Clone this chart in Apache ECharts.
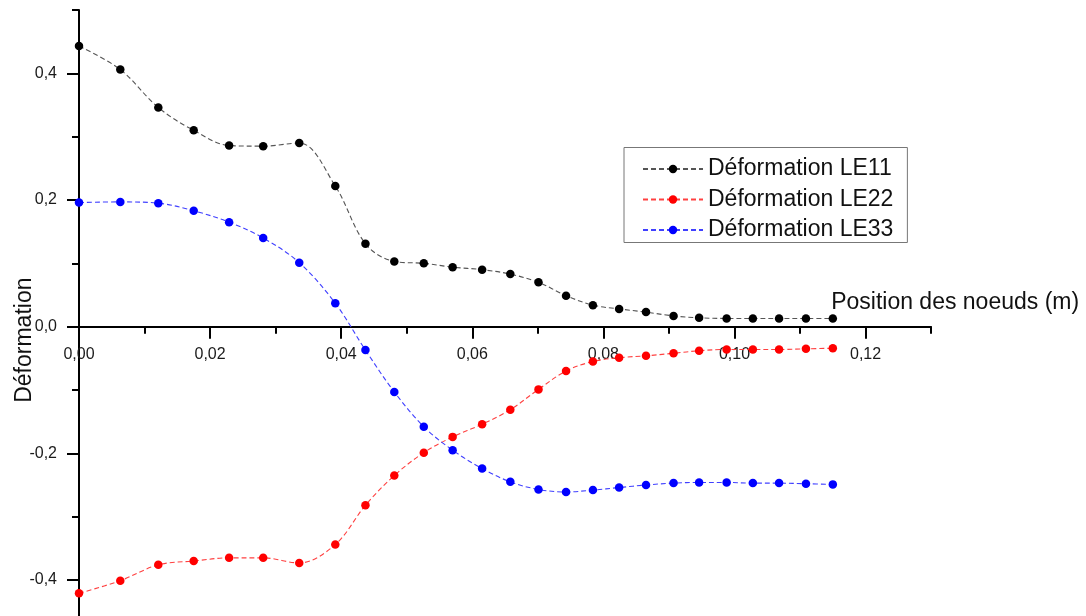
<!DOCTYPE html>
<html>
<head>
<meta charset="utf-8">
<script src="https://cdn.jsdelivr.net/npm/echarts@6/dist/echarts.min.js"></script>
<style>
  html, body { margin: 0; padding: 0; background: #fff; }
  #chart { width: 1086px; height: 616px; }
</style>
</head>
<body>
<div id="chart"></div>
<script>
// Node positions along the part (m)
const positions = [0, 0.0063, 0.0121, 0.0175, 0.0229, 0.0281, 0.0336, 0.0391, 0.0437, 0.0481,
  0.0526, 0.0570, 0.0615, 0.0658, 0.0701, 0.0743, 0.0784, 0.0824, 0.0865, 0.0907,
  0.0946, 0.0988, 0.1028, 0.1068, 0.1109, 0.1150];

// Strain components at each node
const le11 = [0.443, 0.406, 0.346, 0.310, 0.286, 0.285, 0.290, 0.222, 0.131, 0.103,
  0.100, 0.094, 0.090, 0.083, 0.070, 0.049, 0.034, 0.028, 0.023, 0.017,
  0.014, 0.013, 0.013, 0.013, 0.013, 0.013];
const le22 = [-0.421, -0.401, -0.376, -0.370, -0.365, -0.365, -0.373, -0.344, -0.282, -0.235,
  -0.199, -0.174, -0.154, -0.131, -0.099, -0.070, -0.055, -0.049, -0.046, -0.042,
  -0.038, -0.036, -0.036, -0.036, -0.035, -0.034];
const le33 = [0.196, 0.197, 0.195, 0.183, 0.165, 0.140, 0.101, 0.037, -0.037, -0.103,
  -0.158, -0.195, -0.224, -0.245, -0.257, -0.261, -0.258, -0.254, -0.250, -0.247,
  -0.246, -0.246, -0.247, -0.247, -0.248, -0.249];

// Tick labels
const yMajorTicks = [-0.4, -0.2, 0, 0.2, 0.4];

const seriesNames = ['Déformation LE11', 'Déformation LE22', 'Déformation LE33'];
const xName = 'Position des noeuds (m)';
const yName = 'Déformation';

const FONT = '"Liberation Sans", Arial, sans-serif';
const comma = (v, d) => v.toFixed(d).replace('.', ',');

// Plot geometry: 6555 px per metre, 633.35 px per unit of strain
const LEFT = 79, TOP = 10, W = 616, CW = 1086;
const PX_X = 6555, PX_Y = 633.35;
const X_MAX = 0.13, X_LABEL_MAX = 0.12;
const Y_MIN = -0.5, Y_MAX = 0.5;
const zeroY = TOP + Y_MAX * PX_Y;

function pairs(ys) { return positions.map((x, i) => [x, ys[i]]); }

function lineSeries(name, ys, markerColor, lineColor) {
  return {
    name: name,
    type: 'line',
    data: pairs(ys),
    xAxisIndex: 0,
    yAxisIndex: 0,
    smooth: 0.35,
    clip: false,
    symbol: 'circle',
    symbolSize: 8.5,
    itemStyle: { color: markerColor },
    lineStyle: { color: lineColor, width: 1.1, type: [5, 3] },
    emphasis: { disabled: true }
  };
}

const chart = echarts.init(document.getElementById('chart'), null, { renderer: 'canvas' });

chart.setOption({
  animation: false,
  backgroundColor: '#ffffff',
  textStyle: { fontFamily: FONT },
  grid: [
    // main plotting area
    { left: LEFT, right: CW - (LEFT + X_MAX * PX_X), top: TOP, bottom: W - (TOP + (Y_MAX - Y_MIN) * PX_Y),
      outerBoundsMode: 'none', containLabel: false },
    // strip whose lower edge sits on the zero line: carries the major x ticks and labels
    { left: LEFT, right: CW - (LEFT + X_LABEL_MAX * PX_X), top: TOP, bottom: W - zeroY,
      outerBoundsMode: 'none', containLabel: false }
  ],
  legend: {
    data: seriesNames,
    orient: 'vertical',
    left: 624,
    top: 147.5,
    padding: [10, 14, 1, 18],
    itemWidth: 60,
    itemHeight: 10.5,
    itemGap: 7.5,
    borderColor: '#777',
    borderWidth: 1,
    textStyle: { fontFamily: FONT, fontSize: 23, color: '#111', lineHeight: 22 }
  },
  xAxis: [
    {
      gridIndex: 0,
      type: 'value',
      min: 0, max: X_MAX, interval: 0.01,
      name: xName,
      nameLocation: 'end',
      nameGap: 148,
      nameTextStyle: { fontFamily: FONT, fontSize: 23, color: '#111', align: 'right', verticalAlign: 'bottom', padding: [0, 0, 13, 0] },
      axisLine: { show: true, onZero: true, lineStyle: { color: '#000', width: 2 } },
      axisTick: { show: true, length: 7, lineStyle: { color: '#000', width: 2 } },
      axisLabel: { show: false },
      splitLine: { show: false }
    },
    {
      gridIndex: 1,
      type: 'value',
      position: 'bottom',
      min: 0, max: X_LABEL_MAX, interval: 0.02,
      axisLine: { show: false, onZero: false },
      axisTick: { show: true, length: 12, lineStyle: { color: '#000', width: 2 } },
      axisLabel: {
        show: true, margin: 20,
        showMinLabel: true, showMaxLabel: true,
        fontFamily: FONT, fontSize: 16, color: '#1a1a1a',
        formatter: v => comma(v, 2)
      },
      splitLine: { show: false }
    }
  ],
  yAxis: [
    {
      gridIndex: 0,
      type: 'value',
      min: Y_MIN, max: Y_MAX, interval: 0.1,
      name: yName,
      nameLocation: 'middle',
      nameGap: 43,
      nameRotate: 90,
      nameTextStyle: { fontFamily: FONT, fontSize: 23, color: '#111', padding: [0, 27, 0, 0] },
      axisLine: { show: true, onZero: true, lineStyle: { color: '#000', width: 2 } },
      axisTick: { show: true, length: 7, lineStyle: { color: '#000', width: 2 } },
      axisLabel: { show: false },
      splitLine: { show: false }
    },
    {
      // major ticks and labels
      gridIndex: 0,
      type: 'value',
      position: 'left',
      min: Y_MIN, max: Y_MAX, interval: 0.1,
      axisLine: { show: false, onZero: false },
      axisTick: { show: true, length: 12, customValues: yMajorTicks, lineStyle: { color: '#000', width: 2 } },
      axisLabel: {
        show: true, customValues: yMajorTicks, margin: 22,
        fontFamily: FONT, fontSize: 16, color: '#1a1a1a',
        formatter: v => comma(v, 1)
      },
      splitLine: { show: false }
    },
    {
      gridIndex: 1,
      type: 'value',
      show: false,
      min: 0, max: 1
    }
  ],
  series: [
    lineSeries(seriesNames[0], le11, '#000000', '#555555'),
    lineSeries(seriesNames[1], le22, '#ff0000', '#ff4040'),
    lineSeries(seriesNames[2], le33, '#0000ff', '#4040ff')
  ]
});
</script>
</body>
</html>
